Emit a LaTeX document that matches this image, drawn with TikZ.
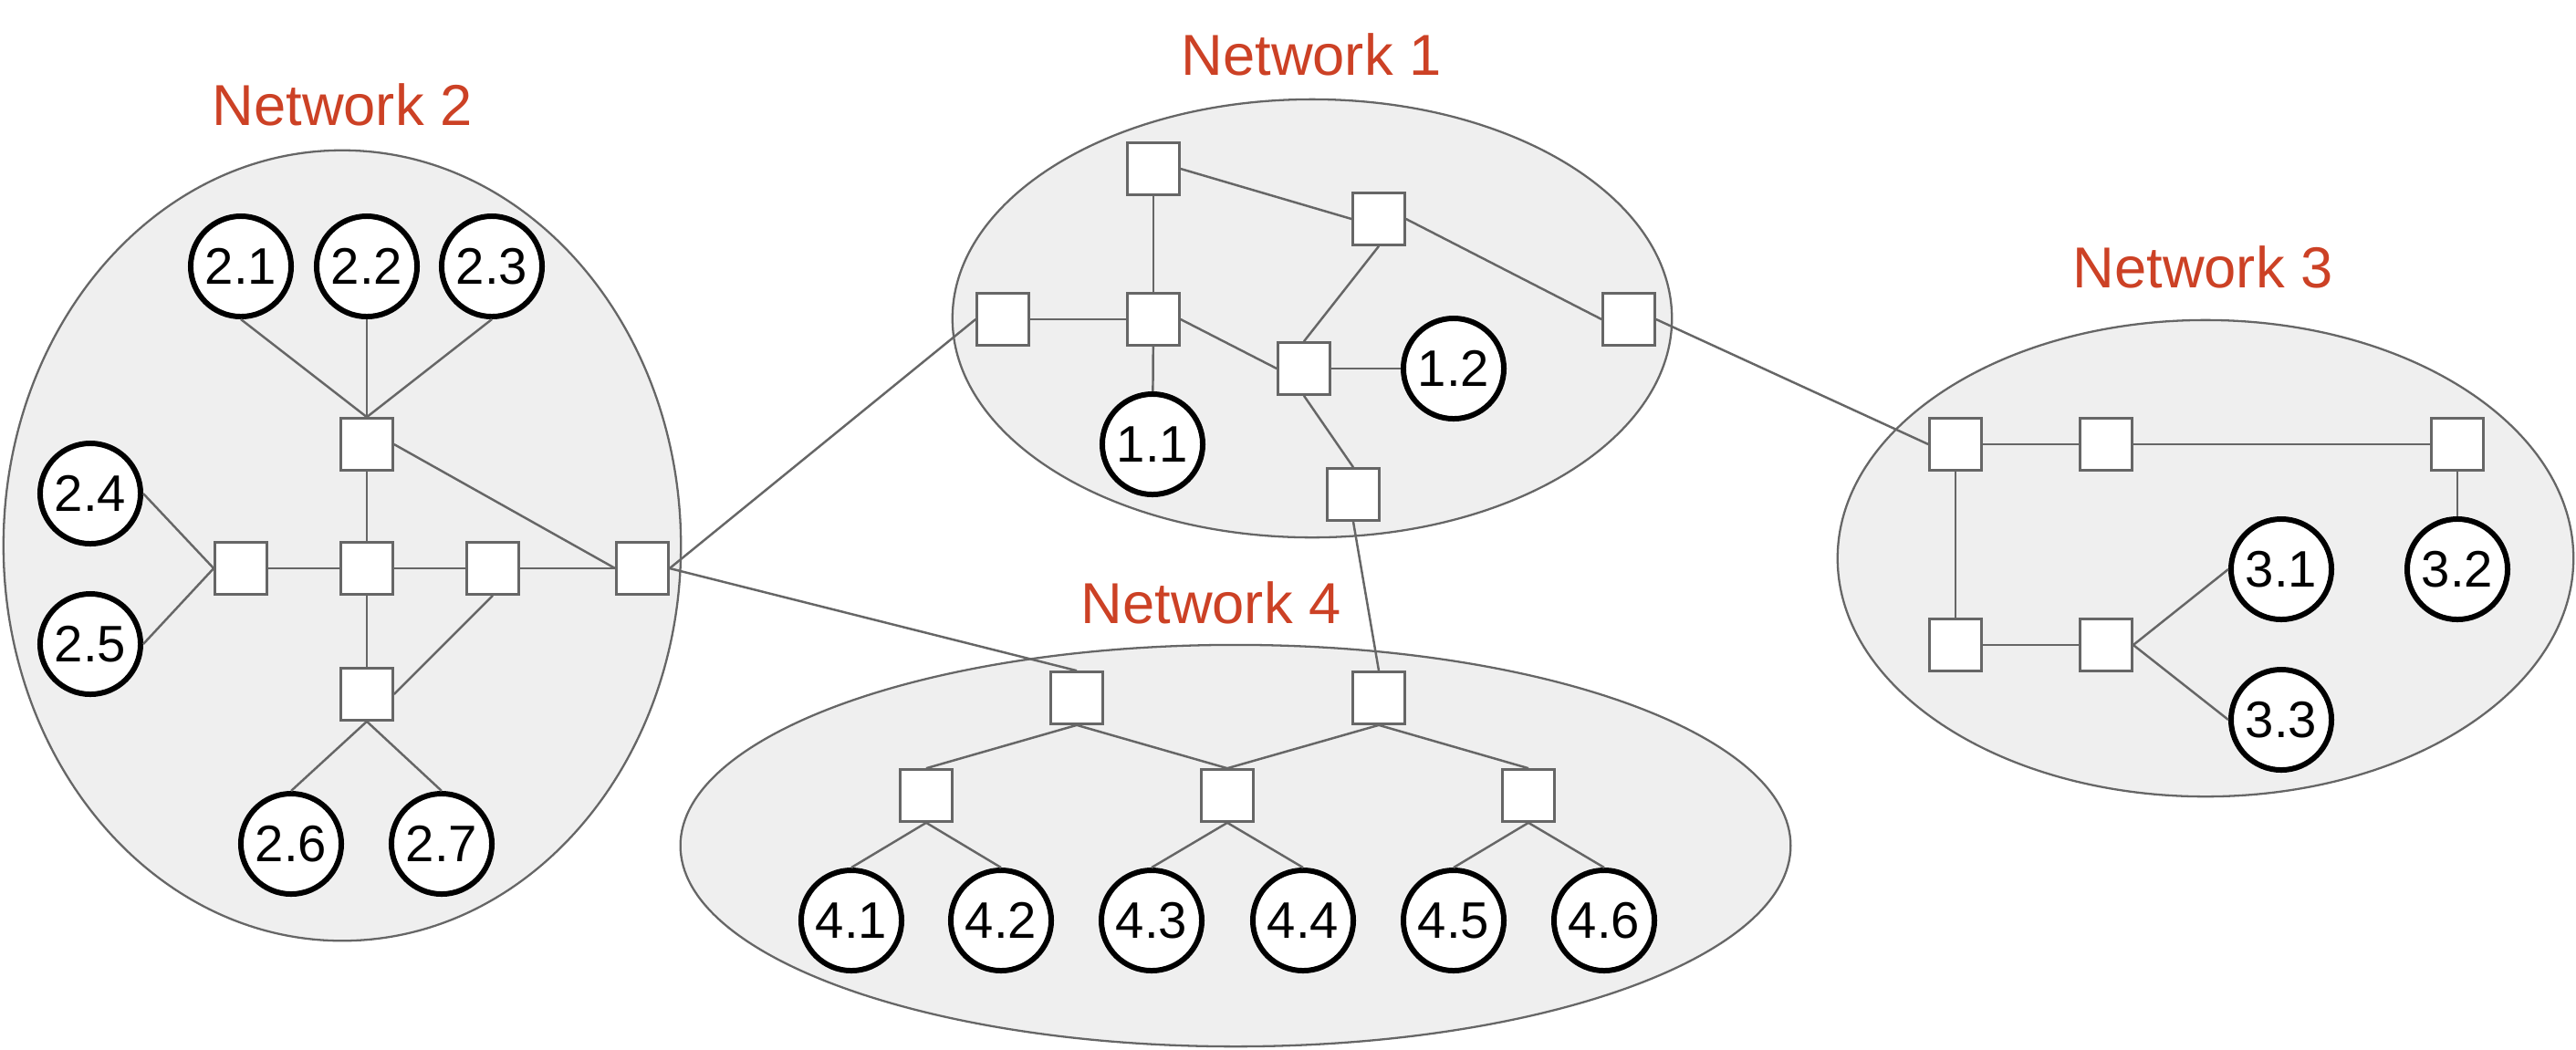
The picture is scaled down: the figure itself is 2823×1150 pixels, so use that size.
\documentclass[tikz,border=0pt]{standalone}
\usepackage{fontspec}
\setmainfont{Liberation Sans}
\definecolor{netred}{HTML}{CC4125}
\definecolor{edgegray}{HTML}{666666}
\definecolor{netfill}{HTML}{EFEFEF}
\tikzset{
  netshape/.style={draw=edgegray, fill=netfill, line width=0.65pt},
  sw/.style={rectangle, draw=edgegray, fill=white, line width=0.75pt, minimum size=0.57cm, inner sep=0pt},
  host/.style={circle, draw=black, fill=white, line width=1.7pt, minimum size=1.1cm, inner sep=0pt, font=\fontsize{16}{18}\selectfont},
  link/.style={draw=edgegray, line width=0.7pt},
  netlabel/.style={text=netred, inner sep=0pt, font=\fontsize{18}{20}\selectfont}
}
\begin{document}
\begin{tikzpicture}[x=0.01cm, y=-0.01cm]
\useasboundingbox (0,0) rectangle (2823,1150);
% network areas
\draw[netshape] (375,598) ellipse [x radius=3.71cm, y radius=4.33cm];
\draw[netshape] (1438,349) ellipse [x radius=3.94cm, y radius=2.40cm];
\draw[netshape] (2417,612) ellipse [x radius=4.03cm, y radius=2.61cm];
\draw[netshape] (1354,927) ellipse [x radius=6.08cm, y radius=2.20cm];
% labels
\node[netlabel] (lab1) at (1437,60) {Network 1};
\node[netlabel] (lab2) at (375,115) {Network 2};
\node[netlabel] (lab3) at (2414,293) {Network 3};
\node[netlabel] (lab4) at (1327,661) {Network 4};
% Network 2
\node[sw] (s2t) at (402,487) {};
\node[sw] (s2c) at (402,623) {};
\node[sw] (s2l) at (264,623) {};
\node[sw] (s2r) at (540,623) {};
\node[sw] (s2x) at (704,623) {};
\node[sw] (s2b) at (402,761) {};
\node[host] (h21) at (264,292) {2.1};
\node[host] (h22) at (402,292) {2.2};
\node[host] (h23) at (539,292) {2.3};
\node[host] (h24) at (99,541) {2.4};
\node[host] (h25) at (99,706) {2.5};
\node[host] (h26) at (319,925) {2.6};
\node[host] (h27) at (484,925) {2.7};
% Network 1
\node[sw] (s1tl) at (1264,185) {};
\node[sw] (s1ur) at (1511,240) {};
\node[sw] (s1l) at (1099,350) {};
\node[sw] (s1c) at (1264,350) {};
\node[sw] (s1m) at (1429,404) {};
\node[sw] (s1r) at (1785,350) {};
\node[sw] (s1b) at (1483,542) {};
\node[host] (h11) at (1263,487) {1.1};
\node[host] (h12) at (1593,404) {1.2};
% Network 3
\node[sw] (s3a) at (2143,487) {};
\node[sw] (s3b) at (2308,487) {};
\node[sw] (s3c) at (2693,487) {};
\node[sw] (s3d) at (2143,707) {};
\node[sw] (s3e) at (2308,707) {};
\node[host] (h31) at (2500,624) {3.1};
\node[host] (h32) at (2693,624) {3.2};
\node[host] (h33) at (2500,789) {3.3};
% Network 4
\node[sw] (s4t1) at (1180,765) {};
\node[sw] (s4t2) at (1511,765) {};
\node[sw] (s4m1) at (1015,872) {};
\node[sw] (s4m2) at (1345,872) {};
\node[sw] (s4m3) at (1675,872) {};
\node[host] (h41) at (933,1009) {4.1};
\node[host] (h42) at (1097,1009) {4.2};
\node[host] (h43) at (1262,1009) {4.3};
\node[host] (h44) at (1428,1009) {4.4};
\node[host] (h45) at (1593,1009) {4.5};
\node[host] (h46) at (1758,1009) {4.6};
% links Network 2
\draw[link] (h21.south) -- (s2t.north);
\draw[link] (h22.south) -- (s2t.north);
\draw[link] (h23.south) -- (s2t.north);
\draw[link] (s2t) -- (s2c);
\draw[link] (s2c) -- (s2b);
\draw[link] (s2l) -- (s2c);
\draw[link] (s2c) -- (s2r);
\draw[link] (s2r) -- (s2x);
\draw[link] (s2t.east) -- (s2x.west);
\draw[link] (s2r.south) -- (s2b.east);
\draw[link] (h24.east) -- (s2l.west);
\draw[link] (h25.east) -- (s2l.west);
\draw[link] (h26.north) -- (s2b.south);
\draw[link] (h27.north) -- (s2b.south);
% links Network 1
\draw[link] (s1tl) -- (s1c);
\draw[link] (s1tl.east) -- (s1ur.west);
\draw[link] (s1ur.east) -- (s1r.west);
\draw[link] (s1ur.south) -- (s1m.north);
\draw[link] (s1l) -- (s1c);
\draw[link] (s1c.east) -- (s1m.west);
\draw[link] (s1c) -- (h11);
\draw[link] (s1m) -- (h12);
\draw[link] (s1m.south) -- (s1b.north);
% links Network 3
\draw[link] (s3a) -- (s3b);
\draw[link] (s3b) -- (s3c);
\draw[link] (s3c) -- (h32);
\draw[link] (s3a) -- (s3d);
\draw[link] (s3d) -- (s3e);
\draw[link] (s3e.east) -- (h31.west);
\draw[link] (s3e.east) -- (h33.west);
% links Network 4
\draw[link] (s4t1.south) -- (s4m1.north);
\draw[link] (s4t1.south) -- (s4m2.north);
\draw[link] (s4t2.south) -- (s4m2.north);
\draw[link] (s4t2.south) -- (s4m3.north);
\draw[link] (s4m1.south) -- (h41.north);
\draw[link] (s4m1.south) -- (h42.north);
\draw[link] (s4m2.south) -- (h43.north);
\draw[link] (s4m2.south) -- (h44.north);
\draw[link] (s4m3.south) -- (h45.north);
\draw[link] (s4m3.south) -- (h46.north);
% inter-network links
\draw[link] (s2x.east) -- (s1l.west);
\draw[link] (s2x.east) -- (s4t1.north);
\draw[link] (s1r.east) -- (s3a.west);
\draw[link] (s1b.south) -- (s4t2.north);
\end{tikzpicture}
\end{document}
